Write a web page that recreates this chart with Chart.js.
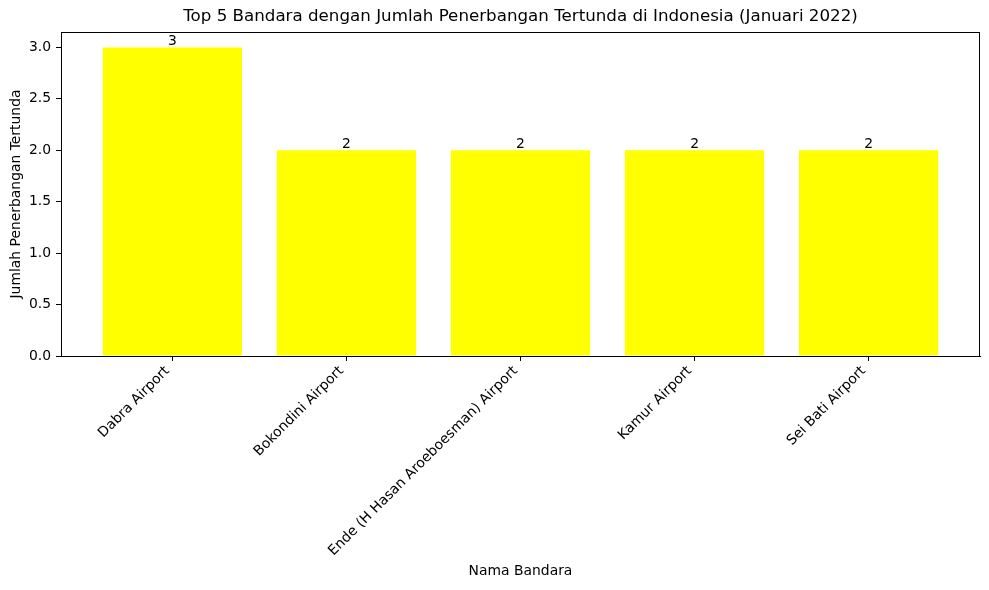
<!DOCTYPE html>
<html>
<head>
<meta charset="utf-8">
<script src="https://cdn.jsdelivr.net/npm/chart.js@4.4.0/dist/chart.umd.min.js"></script>
<style>
html,body{margin:0;padding:0;background:#fff;}
#wrap{width:989px;height:590px;position:relative;}
</style>
</head>
<body>
<div id="wrap"><canvas id="c" width="989" height="590"></canvas></div>
<script>
const categories = ["Dabra Airport", "Bokondini Airport", "Ende (H Hasan Aroeboesman) Airport", "Kamur Airport", "Sei Bati Airport"];
const delayedFlights = [3, 2, 2, 2, 2];
const yTicks = [0, 0.5, 1.0, 1.5, 2.0, 2.5, 3.0];

const FONT = "'DejaVu Sans', sans-serif";

const frameAndLabels = {
  id: 'frameAndLabels',
  afterDatasetsDraw(chart) {
    const ctx = chart.ctx;
    const xs = chart.scales.x, ys = chart.scales.y;
    ctx.save();
    ctx.fillStyle = '#000';
    ctx.font = "13.9px " + FONT;
    ctx.textAlign = 'center';
    ctx.textBaseline = 'bottom';
    delayedFlights.forEach((v, i) => {
      ctx.fillText(String(v), xs.getPixelForValue(i), ys.getPixelForValue(v) + 1);
    });
    const a = chart.chartArea;
    ctx.strokeStyle = '#000';
    ctx.lineWidth = 1;
    ctx.strokeRect(Math.round(a.left) + 0.5, Math.round(a.top) + 0.5, Math.round(a.right - a.left) - 1, Math.round(a.bottom - a.top));
    ctx.restore();
  }
};

new Chart(document.getElementById('c'), {
  type: 'bar',
  data: {
    datasets: [{
      data: delayedFlights.map((v, i) => ({x: i, y: v})),
      backgroundColor: '#ffff00',
      borderWidth: 0,
      barPercentage: 0.8,
      categoryPercentage: 1.0
    }]
  },
  options: {
    responsive: false,
    animation: false,
    devicePixelRatio: 1,
    layout: {padding: {left: 0, right: 9, top: 0, bottom: 0}},
    plugins: {
      legend: {display: false},
      tooltip: {enabled: false},
      title: {
        display: true,
        fullSize: false,
        text: 'Top 5 Bandara dengan Jumlah Penerbangan Tertunda di Indonesia (Januari 2022)',
        color: '#000',
        font: {family: FONT, size: 16.7, weight: 'normal'},
        padding: {top: 7, bottom: 5}
      }
    },
    scales: {
      x: {
        type: 'linear',
        offset: false,
        min: -0.64,
        max: 4.64,
        afterBuildTicks(scale) { scale.ticks = categories.map((c, i) => ({value: i})); },
        afterFit(scale) { scale.height = 234; },
        grid: {display: true, offset: false, drawOnChartArea: false, drawTicks: true, tickLength: 5, color: '#000', tickColor: '#000'},
        border: {display: true, color: '#000'},
        ticks: {
          autoSkip: false,
          minRotation: 45,
          maxRotation: 45,
          padding: 2,
          labelOffset: -5,
          color: '#000',
          font: {family: FONT, size: 13.9},
          callback(v) { return categories[v] !== undefined ? categories[v] : ''; }
        },
        title: {
          display: true,
          text: 'Nama Bandara',
          color: '#000',
          font: {family: FONT, size: 13.9},
          padding: {top: 10, bottom: 10}
        }
      },
      y: {
        min: 0,
        max: 3.15,
        afterBuildTicks(scale) { scale.ticks = yTicks.map(v => ({value: v})); },
        afterFit(scale) { scale.width = 61; },
        grid: {display: true, drawOnChartArea: false, drawTicks: true, tickLength: 5, color: '#000', tickColor: '#000'},
        border: {display: true, color: '#000'},
        ticks: {
          padding: 5,
          color: '#000',
          font: {family: FONT, size: 13.9},
          callback(v) { return Number(v).toFixed(1); }
        },
        title: {
          display: true,
          text: 'Jumlah Penerbangan Tertunda',
          color: '#000',
          font: {family: FONT, size: 13.9},
          padding: {top: 8, bottom: 8}
        }
      }
    }
  },
  plugins: [frameAndLabels]
});
</script>
</body>
</html>
